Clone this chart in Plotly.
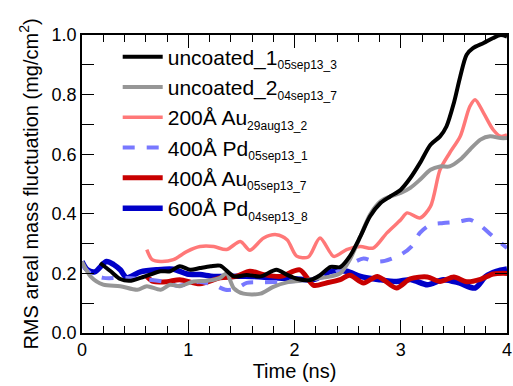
import plotly.graph_objects as go

# ---- data ----
unc1_x = [0.17,0.27,0.36,0.45,0.55,0.64,0.74,0.83,0.92,1.02,1.11,1.21,1.30,1.43,1.55,1.68,1.83,1.93,2.02,2.15,2.24,2.34,2.43,2.52,2.62,2.71,2.81,2.90,3.00,3.09,3.18,3.28,3.37,3.43,3.50,3.56,3.62,3.68,3.78,3.87,3.94,4.00]
unc1_y = [0.235,0.207,0.181,0.175,0.185,0.196,0.207,0.207,0.224,0.212,0.218,0.224,0.226,0.19,0.195,0.19,0.212,0.195,0.182,0.178,0.194,0.222,0.221,0.257,0.324,0.391,0.436,0.458,0.481,0.52,0.57,0.632,0.66,0.693,0.772,0.861,0.934,0.956,0.973,0.99,1.0,0.995]

unc2_x = [0,0.08,0.2,0.36,0.52,0.61,0.74,0.83,0.92,1.05,1.17,1.30,1.36,1.43,1.52,1.68,1.80,1.93,2.05,2.15,2.34,2.43,2.52,2.62,2.71,2.81,2.90,3.00,3.09,3.18,3.28,3.37,3.46,3.56,3.65,3.75,3.84,3.94,4.0]
unc2_y = [0.24,0.19,0.162,0.157,0.145,0.157,0.145,0.162,0.157,0.173,0.175,0.185,0.2,0.15,0.132,0.132,0.155,0.17,0.175,0.18,0.19,0.2,0.246,0.324,0.397,0.442,0.458,0.47,0.487,0.514,0.548,0.559,0.559,0.582,0.615,0.649,0.66,0.654,0.654]

au200_x = [0.61,0.66,0.74,0.86,0.99,1.11,1.24,1.36,1.49,1.58,1.71,1.83,1.93,2.02,2.13,2.24,2.37,2.49,2.62,2.74,2.87,3.0,3.06,3.18,3.28,3.37,3.46,3.56,3.65,3.70,3.78,3.87,3.94,4.0]
au200_y = [0.28,0.246,0.24,0.246,0.274,0.29,0.29,0.28,0.307,0.278,0.319,0.33,0.313,0.258,0.255,0.319,0.257,0.28,0.29,0.285,0.336,0.38,0.403,0.386,0.425,0.548,0.604,0.66,0.76,0.783,0.738,0.682,0.66,0.665]

pd400_x = [0,0.08,0.2,0.4,0.6,0.8,0.9,1.0,1.1,1.25,1.35,1.45,1.55,1.7,1.9,2.1,2.3,2.45,2.55,2.65,2.75,2.85,3.0,3.1,3.18,3.28,3.4,3.55,3.65,3.75,3.85,3.95,4.0]
pd400_y = [0.229,0.2,0.185,0.185,0.18,0.17,0.158,0.165,0.172,0.16,0.145,0.148,0.168,0.17,0.172,0.178,0.19,0.215,0.235,0.25,0.24,0.242,0.263,0.29,0.336,0.363,0.369,0.374,0.38,0.36,0.33,0.3,0.285]

au400_x = [0.61,0.67,0.8,0.92,1.11,1.30,1.45,1.58,1.71,1.87,2.05,2.18,2.3,2.43,2.52,2.65,2.78,2.96,3.09,3.25,3.37,3.50,3.62,3.75,3.87,4.0]
au400_y = [0.19,0.173,0.172,0.179,0.165,0.185,0.19,0.207,0.196,0.19,0.212,0.16,0.168,0.179,0.194,0.168,0.19,0.151,0.182,0.188,0.173,0.188,0.172,0.18,0.198,0.2]

pd600_x = [0,0.05,0.12,0.23,0.3,0.36,0.42,0.55,0.7,0.86,0.99,1.11,1.24,1.4,1.6,1.8,2.0,2.18,2.34,2.49,2.62,2.8,2.96,3.1,3.25,3.4,3.55,3.7,3.8,3.9,4.0]
pd600_y = [0.24,0.212,0.205,0.24,0.229,0.212,0.186,0.205,0.212,0.214,0.198,0.196,0.19,0.19,0.19,0.185,0.182,0.179,0.207,0.207,0.19,0.179,0.173,0.179,0.162,0.179,0.168,0.151,0.19,0.207,0.215]

main_names = ["uncoated_1", "uncoated_2", "200Å Au", "400Å Pd", "400Å Au", "600Å Pd"]
sub_names = ["05sep13_3", "04sep13_7", "29aug13_2", "05sep13_1", "05sep13_7", "04sep13_8"]

x_ticks = [0, 1, 2, 3, 4]
y_tickvals = [0.0, 0.1, 0.2, 0.3, 0.4, 0.5, 0.6, 0.7, 0.8, 0.9, 1.0]
y_ticktext = ["0.0", "", "0.2", "", "0.4", "", "0.6", "", "0.8", "", "1.0"]


def label(i):
    return f"{main_names[i]}<sub><span style='font-size:12px'>{sub_names[i]}</span></sub>"


# (x, y, index, color, width, dash) in drawing order
series = [
    (pd600_x, pd600_y, 5, "#0000C8", 5.5, "solid"),
    (au400_x, au400_y, 4, "#C80000", 5, "solid"),
    (pd400_x, pd400_y, 3, "#7878FF", 4, "dash"),
    (au200_x, au200_y, 2, "#FF7878", 3.5, "solid"),
    (unc2_x, unc2_y, 1, "#969696", 4, "solid"),
    (unc1_x, unc1_y, 0, "#000000", 4, "solid"),
]

fig = go.Figure()
for xs, ys, i, col, w, dash in series:
    fig.add_trace(go.Scatter(
        x=xs, y=ys, name=label(i), mode="lines",
        line=dict(color=col, width=w, dash=dash, shape="spline", smoothing=0.8),
        legendrank=i + 1,
    ))

font = "Liberation Sans, Arial, Helvetica, sans-serif"
fig.update_layout(
    width=513, height=386,
    margin=dict(l=82, r=6, t=35, b=53),
    paper_bgcolor="white", plot_bgcolor="white",
    font=dict(family=font, size=18, color="black"),
    showlegend=True,
    legend=dict(
        x=0.084, y=0.995, xanchor="left", yanchor="top",
        bgcolor="rgba(0,0,0,0)", font=dict(size=21, family=font),
        itemwidth=40, traceorder="normal",
    ),
    xaxis=dict(
        range=[0, 4], tickvals=x_ticks, ticks="inside", ticklen=13, tickwidth=1.2,
        tickcolor="black", showline=True, linecolor="black", linewidth=1.5,
        mirror="ticks", showgrid=False, zeroline=False, automargin=False,
        minor=dict(dtick=0.2, ticks="inside", ticklen=7, tickcolor="black", showgrid=False),
        title=dict(text="Time (ns)", font=dict(size=20), standoff=2),
        tickfont=dict(size=18),
    ),
    yaxis=dict(
        range=[0, 1.0], tickvals=y_tickvals, ticktext=y_ticktext,
        ticks="inside", ticklen=12, tickwidth=1.2, tickcolor="black",
        showline=True, linecolor="black", linewidth=1.5, mirror="ticks",
        showgrid=False, zeroline=False, automargin=False,
        title=dict(text="RMS areal mass fluctuation (mg/cm<sup>2</sup>)", font=dict(size=20), standoff=8),
        tickfont=dict(size=18),
    ),
)

fig.write_html(
    "out.html",
    config={"displayModeBar": False},
    post_script="document.body.style.margin='0px';document.body.style.overflow='hidden';",
)
